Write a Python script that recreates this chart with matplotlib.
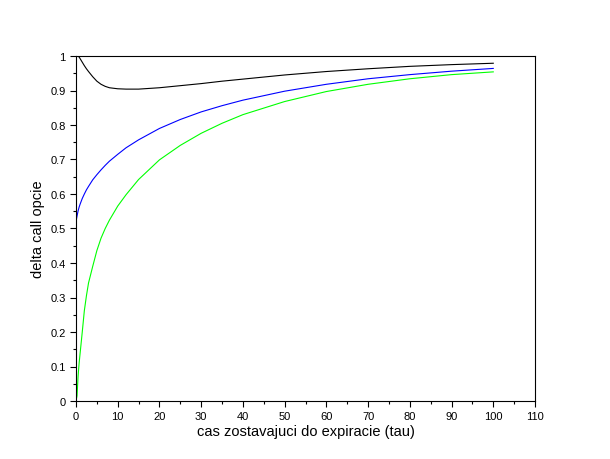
import matplotlib
matplotlib.use('Agg')
from matplotlib import pyplot as plt
from matplotlib.ticker import MultipleLocator, FuncFormatter

# cas do expiracie
tau = [0, 0.25, 0.5, 0.75, 1, 1.5, 2, 2.5, 3, 4, 5, 6, 7, 8, 10, 12, 15,
       20, 25, 30, 35, 40, 50, 60, 70, 80, 90, 100]

delta_black = [1.0, 1.0, 0.999, 0.997, 0.992, 0.982, 0.972, 0.963, 0.955,
               0.940, 0.927, 0.918, 0.912, 0.908, 0.905, 0.904, 0.904,
               0.908, 0.914, 0.920, 0.927, 0.933, 0.945, 0.955, 0.963,
               0.970, 0.975, 0.979]

delta_blue = [0.52, 0.536, 0.551, 0.562, 0.571, 0.587, 0.600, 0.612, 0.622,
              0.641, 0.656, 0.670, 0.683, 0.695, 0.715, 0.734, 0.757,
              0.790, 0.816, 0.838, 0.856, 0.872, 0.898, 0.918, 0.934,
              0.946, 0.956, 0.964]

delta_green = [0.0, 0.015, 0.072, 0.11, 0.14, 0.20, 0.262, 0.305, 0.342,
               0.39, 0.436, 0.472, 0.50, 0.524, 0.565, 0.598, 0.642,
               0.699, 0.741, 0.776, 0.805, 0.83, 0.868, 0.897, 0.918,
               0.934, 0.946, 0.954]

plt.rcParams['font.family'] = ['Liberation Sans', 'DejaVu Sans']

fig = plt.figure(figsize=(6.1, 4.6), dpi=100)
ax = fig.add_axes([76/610, 1 - 402/460, (535 - 76)/610, (402 - 57)/460])

ax.plot(tau, delta_black, color='black', lw=0.8)
ax.plot(tau, delta_blue, color='#0000ff', lw=0.8)
ax.plot(tau, delta_green, color='#00ff00', lw=0.8)

ax.set_xlim(0, 110)
ax.set_ylim(0, 1)
ax.xaxis.set_major_locator(MultipleLocator(10))
ax.xaxis.set_minor_locator(MultipleLocator(5))
ax.yaxis.set_major_locator(MultipleLocator(0.1))
ax.yaxis.set_minor_locator(MultipleLocator(0.05))
ax.yaxis.set_major_formatter(FuncFormatter(lambda v, p: '%g' % round(v, 2)))
ax.tick_params(which='major', length=4, width=0.8, labelsize=8, direction='out')
ax.tick_params(which='minor', length=2, width=0.8, direction='out')
for s in ax.spines.values():
    s.set_linewidth(0.8)

ax.set_xlabel('cas zostavajuci do expiracie (tau)', fontsize=10.5, labelpad=2)
ax.set_ylabel('delta call opcie', fontsize=10.5, labelpad=4)

fig.savefig('out.png', dpi=100)
